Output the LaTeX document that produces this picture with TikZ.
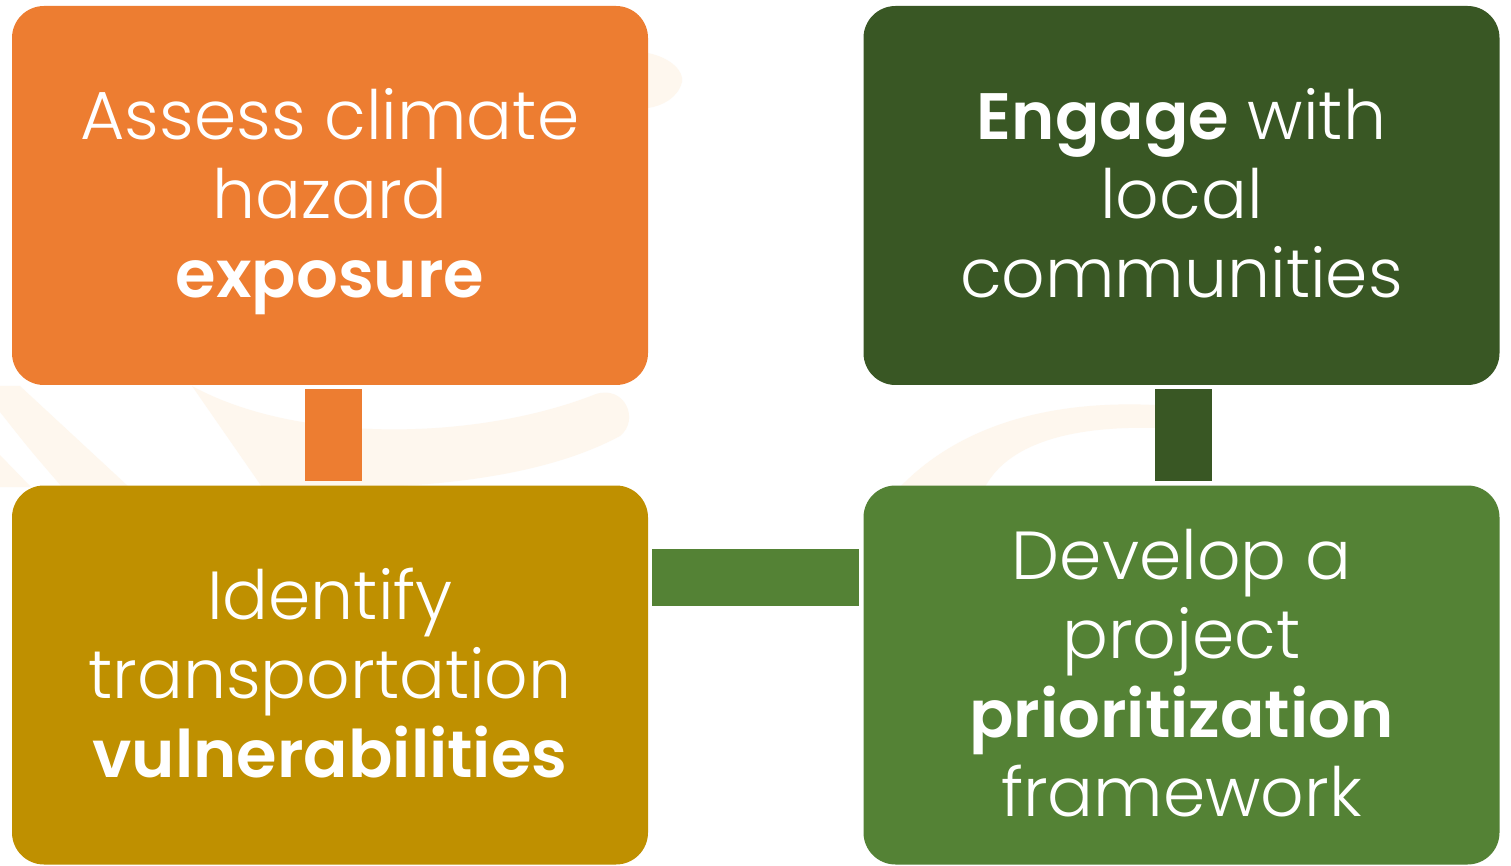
\documentclass[tikz,border=0pt]{standalone}
\usepackage{fontspec}
\IfFontExistsTF{Poppins Light}{\setmainfont{Poppins Light}[BoldFont={Poppins SemiBold},BoldFeatures={Scale=0.965}]}{\setmainfont{Poppins}}
\definecolor{orangeC}{HTML}{ED7D31}
\definecolor{darkgreenC}{HTML}{395724}
\definecolor{goldC}{HTML}{BF9000}
\definecolor{greenC}{HTML}{548235}
\definecolor{swirlC}{HTML}{FEF7EE}
\begin{document}
\begin{tikzpicture}[x=0.5pt,y=-0.5pt,
  box/.style={minimum width=318pt,minimum height=189.5pt,rounded corners=16pt,inner sep=0pt},
  label/.style={text=white,inner sep=0pt,font=\fontsize{34}{39.5}\selectfont,align=center,yshift=-3.7pt},
  bar/.style={line width=28.5pt,line cap=butt},
  swirl/.style={fill=swirlC}]
\useasboundingbox (0,0) rectangle (1511,866);
\fill[white] (0,0) rectangle (1511,866);
% faint background swirls
\fill[swirl] (20,386) -- (129,487) -- (62,487) .. controls (30,450) .. (0,412) -- (0,386) -- cycle;
\fill[swirl] (0,455) -- (31,487) -- (0,487) -- cycle;
\fill[swirl] (192,386) .. controls (300,445) and (480,440) .. (596,394)
  .. controls (625,385) and (640,420) .. (620,436)
  .. controls (520,490) and (360,490) .. (262,487) -- cycle;
\fill[swirl] (900,487) .. controls (960,425) and (1050,400) .. (1155,405) -- (1155,428)
  .. controls (1080,426) and (1010,440) .. (985,487) -- cycle;
\fill[swirl] (648,53) .. controls (672,58) and (684,72) .. (682,82)
  .. controls (678,98) and (662,106) .. (648,108) -- cycle;
% boxes
\node[box,fill=orangeC] (a) at (330,195.5) {};
\node[box,fill=darkgreenC] (b) at (1181.5,195.5) {};
\node[box,fill=goldC] (c) at (330,675) {};
\node[box,fill=greenC] (d) at (1181.5,675) {};
\node[label] (ta) at (a.center) {\strut Assess climate\\\strut hazard\\\strut\textbf{exposure}};
\node[label] (tb) at (b.center) {\strut\textbf{Engage} with\\\strut local\\\strut communities};
\node[label] (tc) at (c.center) {\strut Identify\\\strut transportation\\\strut\textbf{vulnerabilities}};
\node[label] (td) at (d.center) {\strut Develop a\\\strut project\\\strut\textbf{prioritization}\\\strut framework};
% connectors
\draw[bar,orangeC] ([xshift=1.75pt,yshift=-2pt]a.south) -- ([xshift=1.75pt,yshift=2pt]c.north);
\draw[bar,darkgreenC] ([xshift=0.75pt,yshift=-2pt]b.south) -- ([xshift=0.75pt,yshift=2pt]d.north);
\draw[bar,greenC] ([xshift=2pt,yshift=48.75pt]c.east) -- ([xshift=-2pt,yshift=48.75pt]d.west);
\end{tikzpicture}
\end{document}
